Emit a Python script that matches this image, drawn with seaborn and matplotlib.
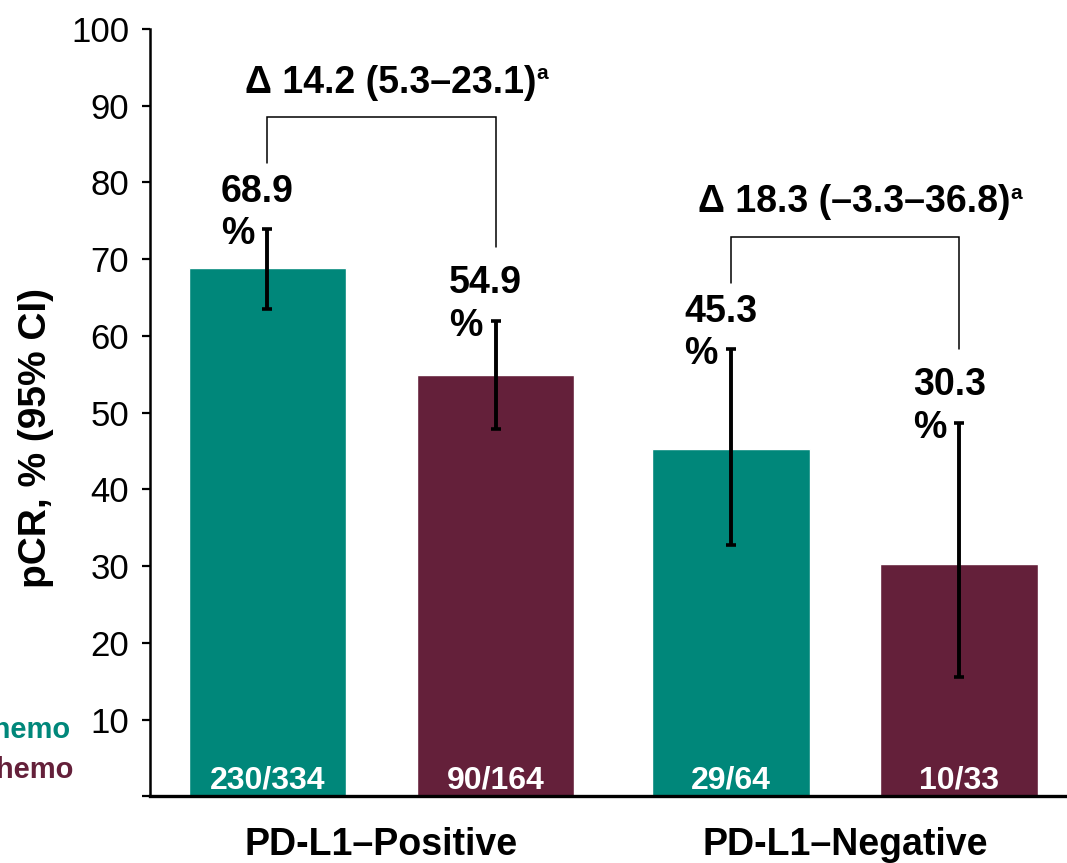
import matplotlib
matplotlib.use("Agg")
import matplotlib.pyplot as plt
import seaborn as sns
import pandas as pd

# ---------------- data ----------------
groups = ["PD-L1\u2013Positive", "PD-L1\u2013Negative"]
arms = ["Pembro + chemo", "Placebo + chemo"]
pcr_pembro = [68.9, 45.3]
pcr_placebo = [54.9, 30.3]
ci_low_pembro = [63.5, 32.8]
ci_high_pembro = [73.9, 58.3]
ci_low_placebo = [47.9, 15.6]
ci_high_placebo = [62.0, 48.7]
counts_pembro = ["230/334", "29/64"]
counts_placebo = ["90/164", "10/33"]
delta_labels = ["\u0394 14.2 (5.3\u201323.1)", "\u0394 18.3 (\u20133.3\u201336.8)"]
yticks = [0, 10, 20, 30, 40, 50, 60, 70, 80, 90, 100]

TEAL = "#00877A"
MAROON = "#64203A"

df = pd.DataFrame({
    "group": groups * 2,
    "arm": [arms[0]] * 2 + [arms[1]] * 2,
    "pcr": pcr_pembro + pcr_placebo,
})

sns.set_theme(style="white")
plt.rcParams["font.family"] = ["Liberation Sans", "DejaVu Sans"]

fig = plt.figure(figsize=(10.67, 8.63), dpi=100)
ax = fig.add_axes([0.1406, 0.0771, 0.8594, 0.8893])

sns.barplot(data=df, x="group", y="pcr", hue="arm", order=groups, hue_order=arms,
            palette=[TEAL, MAROON], width=0.985, gap=0.31, errorbar=None,
            legend=False, saturation=1, ax=ax)

ax.set_ylim(0, 100)
ax.set_xlim(-0.4995, 1.479)
ax.set_yticks(yticks)
ax.set_yticklabels(["" if t == 0 else str(t) for t in yticks], fontsize=25)
ax.tick_params(axis="y", direction="out", length=6, width=1.6, left=True, pad=9, colors="black")
ax.tick_params(axis="x", length=0, pad=22, labelsize=27, labelcolor="black")
for lab in ax.get_xticklabels():
    lab.set_fontweight("bold")
    lab.set_color("black")
ax.set_xlabel("")
ax.set_ylabel("pCR, % (95% CI)", fontsize=28, fontweight="bold", color="black")
ax.yaxis.set_label_coords(-0.105, 0.467)

for s in ["top", "right"]:
    ax.spines[s].set_visible(False)
ax.spines["left"].set_color("black")
ax.spines["left"].set_linewidth(1.8)
ax.spines["bottom"].set_color("black")
ax.spines["bottom"].set_linewidth(2.4)

series = [
    (pcr_pembro, ci_low_pembro, ci_high_pembro, counts_pembro),
    (pcr_placebo, ci_low_placebo, ci_high_placebo, counts_placebo),
]
centers = {}
for h, (vals, lo, hi, cnts) in enumerate(series):
    cont = ax.containers[h]
    for g, bar in enumerate(cont.patches):
        xc = bar.get_x() + bar.get_width() / 2
        centers[(h, g)] = xc
        v = vals[g]
        ax.errorbar(xc, v, yerr=[[v - lo[g]], [hi[g] - v]], fmt="none",
                    ecolor="black", elinewidth=2.8, capsize=3.3, capthick=2.6, zorder=5)
        ax.text(xc - 0.1, hi[g] + 7.2, f"{v:.1f}\n%", ha="left", va="top",
                fontsize=27, fontweight="bold", color="black", linespacing=1.22)
        ax.text(xc, 1.1, cnts[g], ha="center", va="baseline", fontsize=23,
                fontweight="bold", color="white", zorder=6)

# brackets with delta labels
fig.canvas.draw()
renderer = fig.canvas.get_renderer()
for g in range(2):
    x0 = centers[(0, g)]
    x1 = centers[(1, g)]
    leg0 = series[0][2][g] + 8.6
    leg1 = series[1][2][g] + 9.6
    top = max(leg0, leg1) + 6
    ax.plot([x0, x0, x1, x1], [leg0, top, top, leg1], color="black", lw=1.1,
            solid_joinstyle="miter", zorder=4)
    gc = (x0 + x1) / 2
    t = ax.text(gc + 0.02, top + 3.2, delta_labels[g], ha="center", va="baseline",
                fontsize=27, fontweight="bold", color="black")
    bb = t.get_window_extent(renderer=renderer)
    inv = ax.transData.inverted()
    xr, yt = inv.transform((bb.x1, bb.y1))
    ax.text(xr, top + 3.2 + 1.8, "a", ha="left", va="baseline",
            fontsize=15, fontweight="bold", color="black")

# partially visible legend texts at left edge
fig.text(70 / 1067, 1 - 730 / 863, arms[0], ha="right", va="center",
         fontsize=21, fontweight="bold", color=TEAL)
fig.text(73 / 1067, 1 - 770 / 863, arms[1], ha="right", va="center",
         fontsize=21, fontweight="bold", color=MAROON)

fig.savefig("out.png", dpi=100)
